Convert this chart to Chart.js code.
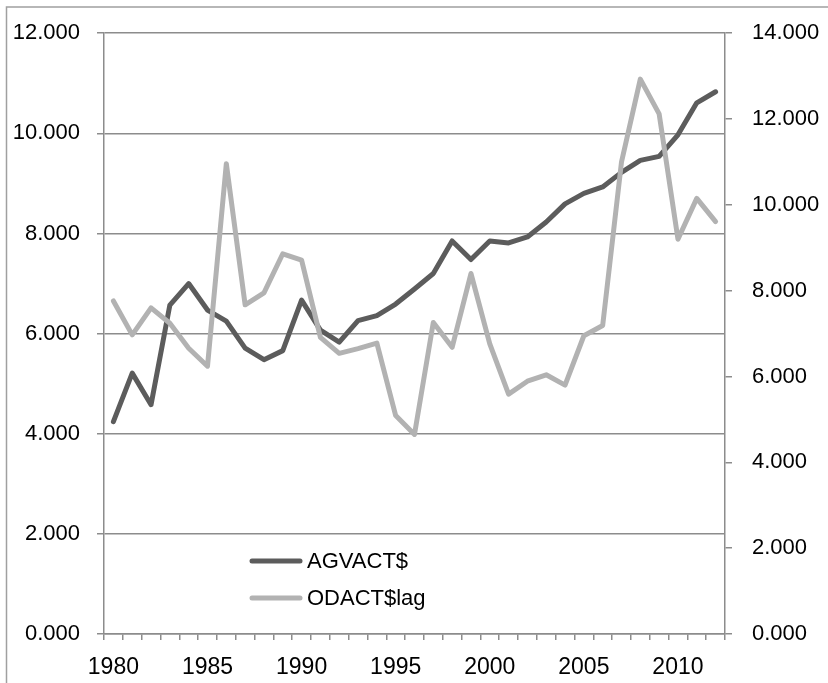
<!DOCTYPE html>
<html>
<head>
<meta charset="utf-8">
<script src="https://cdn.jsdelivr.net/npm/chart.js@4"></script>
<style>
  body { margin: 0; background: #fff; }
  #wrap { width: 828px; height: 683px; position: relative; }
</style>
</head>
<body>
<div id="wrap"><canvas id="myChart"></canvas></div>
<script>
const years = ['1980','1981','1982','1983','1984','1985','1986','1987','1988','1989',
               '1990','1991','1992','1993','1994','1995','1996','1997','1998','1999',
               '2000','2001','2002','2003','2004','2005','2006','2007','2008','2009',
               '2010','2011','2012'];

// left axis
const agvact = [4.24, 5.21, 4.58, 6.57, 7.00, 6.47, 6.25, 5.71, 5.48, 5.66,
                6.67, 6.07, 5.83, 6.26, 6.36, 6.59, 6.89, 7.20, 7.85, 7.48,
                7.85, 7.81, 7.93, 8.23, 8.59, 8.80, 8.93, 9.22, 9.46, 9.54,
                9.97, 10.61, 10.83];

// right axis
const odactLag = [7.76, 6.97, 7.60, 7.24, 6.66, 6.24, 10.96, 7.67, 7.95, 8.86,
                  8.71, 6.91, 6.54, 6.65, 6.78, 5.09, 4.65, 7.26, 6.68, 8.40,
                  6.76, 5.59, 5.89, 6.04, 5.80, 6.95, 7.19, 11.00, 12.93, 12.12,
                  9.20, 10.15, 9.61];

const axisGray = '#8c8c8c';

Chart.defaults.font.family = "'Liberation Sans', Arial, sans-serif";
Chart.defaults.font.size = 22;
Chart.defaults.color = '#000';

// frame on left + top, and the legend inside the plot
const extras = {
  id: 'extras',
  beforeDraw(chart) {
    const c = chart.ctx;
    c.save();
    c.strokeStyle = '#a0a0a0';
    c.lineWidth = 1.5;
    c.beginPath();
    c.moveTo(6.5, 683);
    c.lineTo(6.5, 7);
    c.lineTo(828, 7);
    c.stroke();
    c.restore();
  },
  afterDraw(chart) {
    const c = chart.ctx;
    const ds = chart.data.datasets;
    const rows = [561, 598];
    c.save();
    ds.forEach((d, i) => {
      c.strokeStyle = d.borderColor;
      c.lineWidth = 5;
      c.lineCap = 'round';
      c.beginPath();
      c.moveTo(252, rows[i]);
      c.lineTo(300, rows[i]);
      c.stroke();
      c.fillStyle = '#000';
      c.font = "22px 'Liberation Sans', Arial, sans-serif";
      c.textBaseline = 'middle';
      c.fillText(d.label, 307, rows[i] + 1);
    });
    c.restore();
  }
};

const ctx = document.getElementById('myChart').getContext('2d');
const myChart = new Chart(ctx, {
  type: 'line',
  plugins: [extras],
  data: {
    labels: years,
    datasets: [
      {
        label: 'AGVACT$',
        data: agvact,
        yAxisID: 'y',
        borderColor: '#5c5c5c',
        borderWidth: 5,
        pointRadius: 0,
        borderJoinStyle: 'round',
        borderCapStyle: 'round',
        order: 2
      },
      {
        label: 'ODACT$lag',
        data: odactLag,
        yAxisID: 'y2',
        borderColor: '#b2b2b2',
        borderWidth: 5,
        pointRadius: 0,
        borderJoinStyle: 'round',
        borderCapStyle: 'round',
        order: 1
      }
    ]
  },
  options: {
    responsive: true,
    maintainAspectRatio: false,
    animation: false,
    layout: { padding: { top: 30, left: 0, right: 0, bottom: 0 } },
    plugins: {
      legend: { display: false },
      tooltip: { enabled: false }
    },
    scales: {
      x: {
        offset: true,
        afterFit: (s) => { s.height = 49; },
        grid: {
          offset: true,
          drawOnChartArea: false,
          tickLength: 6,
          color: axisGray,
          lineWidth: 1.5
        },
        border: { color: axisGray, width: 1.5 },
        ticks: {
          autoSkip: false,
          maxRotation: 0,
          padding: 14,
          font: { size: 23 },
          callback: function (value, index) {
            return index % 5 === 0 ? this.getLabelForValue(value) : '';
          }
        }
      },
      y: {
        position: 'left',
        min: 0,
        max: 12,
        afterFit: (s) => { s.width = 104; },
        grid: { color: axisGray, lineWidth: 1.5, tickLength: 7 },
        border: { color: axisGray, width: 1.5 },
        ticks: {
          stepSize: 2,
          padding: 17,
          callback: (v) => v.toFixed(3)
        }
      },
      y2: {
        position: 'right',
        min: 0,
        max: 14,
        afterFit: (s) => { s.width = 103; },
        grid: { drawOnChartArea: false, color: axisGray, lineWidth: 1.5, tickLength: 7 },
        border: { color: axisGray, width: 1.5 },
        ticks: {
          stepSize: 2,
          padding: 20,
          callback: (v) => v.toFixed(3)
        }
      }
    }
  }
});
</script>
</body>
</html>
